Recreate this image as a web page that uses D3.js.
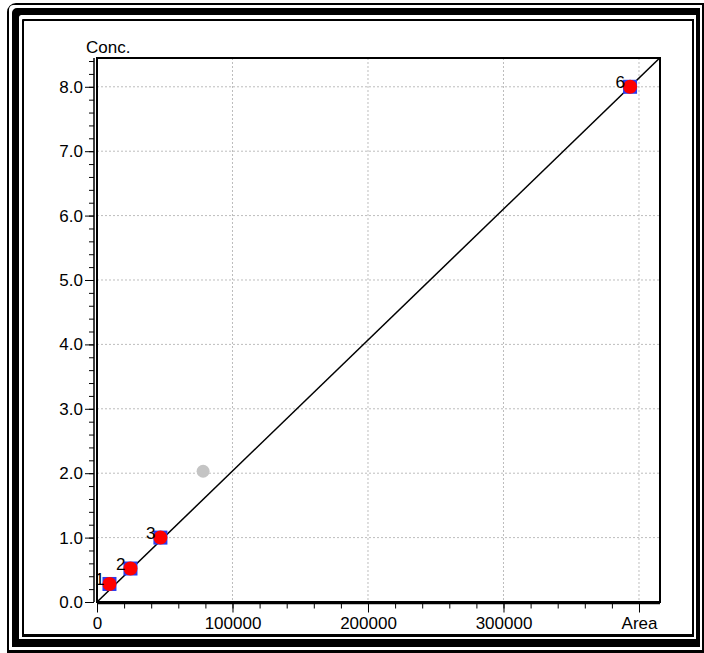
<!DOCTYPE html>
<html>
<head>
<meta charset="utf-8">
<script src="https://cdn.jsdelivr.net/npm/d3@7"></script>
<style>
  html, body { margin: 0; padding: 0; background: #fff; }
  svg { display: block; font-family: "Liberation Sans", Arial, sans-serif; }
</style>
</head>
<body>
<div id="chart"></div>
<script>
// calibration points
const pointIds = ['1', '2', '3', '6'];
const pointArea = [9200, 24700, 46800, 393400];
const pointConc = [0.28, 0.52, 1.0, 8.0];

// point left out of the fit (grey)
const excludedArea = [78300];
const excludedConc = [2.03];

// fitted line: conc = slope * area + intercept
const fitSlope = 2.034e-5;
const fitIntercept = 0;

const xMajorTicks = [0, 100000, 200000, 300000, 400000];
const xTickLabels = ['0', '100000', '200000', '300000', 'Area'];
const yMajorTicks = [0, 1, 2, 3, 4, 5, 6, 7, 8];
const yTickLabels = ['0.0', '1.0', '2.0', '3.0', '4.0', '5.0', '6.0', '7.0', '8.0'];
const yTitle = 'Conc.';

const width = 704;
const height = 653;
const FONT = 17;

const svg = d3.select('#chart')
  .append('svg')
  .attr('width', width)
  .attr('height', height);

svg.append('rect')
  .attr('width', width)
  .attr('height', height)
  .attr('fill', '#fff');

// window frame: three nested rings, thick one in the middle
function ring(o, i, r) {
  const p = d3.path();
  p.moveTo(o[0] + r, o[1]);
  p.lineTo(o[2], o[1]);
  p.lineTo(o[2], o[3]);
  p.lineTo(o[0], o[3]);
  p.lineTo(o[0], o[1] + r);
  p.arcTo(o[0], o[1], o[0] + r, o[1], r);
  p.closePath();
  p.moveTo(i[0] + r / 2, i[1]);
  p.lineTo(i[2], i[1]);
  p.lineTo(i[2], i[3]);
  p.lineTo(i[0], i[3]);
  p.lineTo(i[0], i[1] + r / 2);
  p.arcTo(i[0], i[1], i[0] + r / 2, i[1], r / 2);
  p.closePath();
  return p.toString();
}

const frame = svg.append('g').attr('fill', '#000').attr('fill-rule', 'evenodd');
frame.append('path').attr('d', ring([7, 3, 704, 653], [9, 5, 702, 650], 9));
frame.append('path').attr('d', ring([12, 8, 700, 647], [19, 15, 696, 639], 5));
frame.append('path').attr('d', ring([22, 19, 694, 637], [24, 21, 692, 634], 1));

// plot area
const plot = { left: 97, top: 58, right: 660, bottom: 602 };

const xScale = d3.scaleLinear()
  .domain([0, 415500])
  .range([plot.left, plot.right]);

const yScale = d3.scaleLinear()
  .domain([0, 8.447])
  .range([plot.bottom, plot.top]);

const xMinor = d3.range(0, 415000, 20000);
const yMinor = d3.range(0, 8.45, 0.2);

// dotted grid
svg.append('g')
  .selectAll('line')
  .data(xMajorTicks.slice(1))
  .join('line')
  .attr('x1', d => xScale(d))
  .attr('x2', d => xScale(d))
  .attr('y1', plot.top)
  .attr('y2', plot.bottom)
  .attr('stroke', '#bdbdbd')
  .attr('stroke-width', 1)
  .attr('stroke-dasharray', '2,2');

svg.append('g')
  .selectAll('line')
  .data(yMajorTicks.slice(1))
  .join('line')
  .attr('x1', plot.left)
  .attr('x2', plot.right)
  .attr('y1', d => yScale(d))
  .attr('y2', d => yScale(d))
  .attr('stroke', '#bdbdbd')
  .attr('stroke-width', 1)
  .attr('stroke-dasharray', '2,2');

// plot border
svg.append('rect')
  .attr('x', plot.left)
  .attr('y', plot.top)
  .attr('width', plot.right - plot.left)
  .attr('height', plot.bottom - plot.top)
  .attr('fill', 'none')
  .attr('stroke', '#000')
  .attr('stroke-width', 2);

// x axis
const xAxisY = plot.bottom + 1.5;
svg.append('g')
  .attr('transform', `translate(0,${xAxisY})`)
  .call(d3.axisBottom(xScale).tickValues(xMinor).tickSize(5).tickFormat(''))
  .call(g => g.select('.domain').remove());

svg.append('g')
  .attr('transform', `translate(0,${xAxisY})`)
  .call(d3.axisBottom(xScale)
    .tickValues(xMajorTicks)
    .tickSize(9)
    .tickPadding(4)
    .tickFormat((d, i) => xTickLabels[i]))
  .call(g => g.select('.domain')
    .attr('d', `M${plot.left},0H${plot.right}`)
    .attr('stroke-width', 1.5))
  .call(g => g.selectAll('text')
    .attr('font-family', '"Liberation Sans", Arial, sans-serif')
    .attr('font-size', FONT)
    .attr('fill', '#000'));

// y axis (sits just left of the plot border)
const yAxisX = plot.left - 3;
svg.append('g')
  .attr('transform', `translate(${yAxisX},0)`)
  .call(d3.axisLeft(yScale).tickValues(yMinor).tickSize(5).tickFormat(''))
  .call(g => g.select('.domain').remove());

svg.append('g')
  .attr('transform', `translate(${yAxisX},0)`)
  .call(d3.axisLeft(yScale)
    .tickValues(yMajorTicks)
    .tickSize(9)
    .tickPadding(2)
    .tickFormat((d, i) => yTickLabels[i]))
  .call(g => g.select('.domain')
    .attr('d', `M0,${plot.top}V${plot.bottom}`)
    .attr('stroke-width', 1.5))
  .call(g => g.selectAll('text')
    .attr('font-family', '"Liberation Sans", Arial, sans-serif')
    .attr('font-size', FONT)
    .attr('fill', '#000'));

svg.append('text')
  .attr('x', 86)
  .attr('y', 53)
  .attr('font-size', FONT)
  .text(yTitle);

// fitted line, clipped to the plot area
svg.append('clipPath')
  .attr('id', 'plot-clip')
  .append('rect')
  .attr('x', plot.left)
  .attr('y', plot.top)
  .attr('width', plot.right - plot.left)
  .attr('height', plot.bottom - plot.top);

const fitLine = d3.line()
  .x(d => xScale(d))
  .y(d => yScale(fitSlope * d + fitIntercept));

svg.append('path')
  .datum(xScale.domain())
  .attr('clip-path', 'url(#plot-clip)')
  .attr('fill', 'none')
  .attr('stroke', '#000')
  .attr('stroke-width', 1.5)
  .attr('d', fitLine);

// excluded point
svg.append('g')
  .selectAll('circle')
  .data(excludedArea)
  .join('circle')
  .attr('cx', d => xScale(d))
  .attr('cy', (d, i) => yScale(excludedConc[i]))
  .attr('r', 6.5)
  .attr('fill', '#c4c4c4');

// calibration points: blue square with red dot
const points = pointArea.map((a, i) => ({ id: pointIds[i], area: a, conc: pointConc[i] }));

const marks = svg.append('g')
  .selectAll('g')
  .data(points)
  .join('g')
  .attr('transform', d => `translate(${xScale(d.area)},${yScale(d.conc)})`);

marks.append('rect')
  .attr('x', -7)
  .attr('y', -7)
  .attr('width', 14)
  .attr('height', 14)
  .attr('fill', '#2a3cf0');

marks.append('circle')
  .attr('r', 7)
  .attr('fill', '#ff0000');

marks.append('text')
  .attr('x', -5)
  .attr('y', 1)
  .attr('text-anchor', 'end')
  .attr('font-size', FONT)
  .text(d => d.id);
</script>
</body>
</html>
